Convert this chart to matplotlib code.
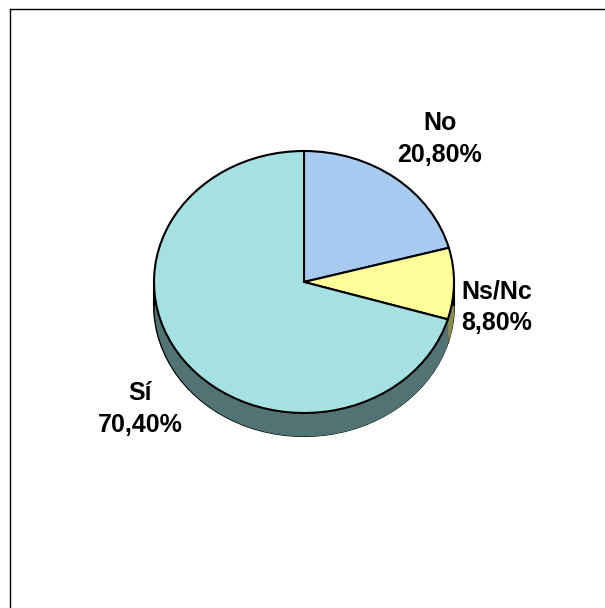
import numpy as np
import matplotlib
matplotlib.use('Agg')
import matplotlib.pyplot as plt

# chart data
labels = ['No', 'Ns/Nc', 'Sí']
values = [20.8, 8.8, 70.4]
top_colors = ['#A6CAF0', '#FFFF99', '#A6E1E1']
side_colors = ['#536575', '#8C8C50', '#527373']

W, H = 605, 608
cx, cy = 304, 282
rx, ry = 150, 131
depth = 23 / ry

def px(x, y):
    return (x - cx) / rx, (cy - y) / ry

fig = plt.figure(figsize=(W / 100, H / 100), dpi=100, facecolor='white')
ax = fig.add_axes([10 / W, 0, (W - 10) / W, 599 / H])

# lower pie, gives the bottom edge of the wall
ax.pie(values, colors=side_colors, startangle=90, counterclock=False, center=(0, -depth),
       wedgeprops={'edgecolor': 'black', 'linewidth': 1.5})

# side wall between lower and upper pie
bounds = 90 - np.cumsum([0] + values) * 3.6
for i in range(len(values)):
    a1 = max(bounds[i + 1], -180)
    a2 = min(bounds[i], 0)
    if bounds[i + 1] < 0 and bounds[i] > -180:
        # wrap the part of the wedge on the front of the pie
        t = np.radians(np.linspace(max(a1, -180), a2, 100))
        ax.fill_between(np.cos(t), np.sin(t), np.sin(t) - depth, color=side_colors[i], lw=0)
ax.plot([-1, -1], [0, -depth], color='black', lw=1.5)
ax.plot([1, 1], [0, -depth], color='black', lw=1.5)

# upper pie
ax.pie(values, colors=top_colors, startangle=90, counterclock=False,
       wedgeprops={'edgecolor': 'black', 'linewidth': 1.5})

ax.set_aspect('auto')
ax.set_xlim(px(10, 0)[0], px(W, 0)[0])
ax.set_ylim(px(0, H)[1], px(0, 9)[1])
ax.set_frame_on(True)
for side in ['right', 'bottom']:
    ax.spines[side].set_visible(False)
for side in ['left', 'top']:
    ax.spines[side].set_linewidth(1.0)
ax.set_xticks([])
ax.set_yticks([])

label_pos = [(440, 139), (497, 307), (140, 409)]
for name, val, pos in zip(labels, values, label_pos):
    x, y = px(*pos)
    ax.text(x, y, f'{name}\n{val:.2f}%'.replace('.', ','), ha='center', va='center',
            fontsize=18, fontweight='bold', family='Liberation Sans',
            linespacing=1.37, color='black')

fig.savefig('out.png', dpi=100)
